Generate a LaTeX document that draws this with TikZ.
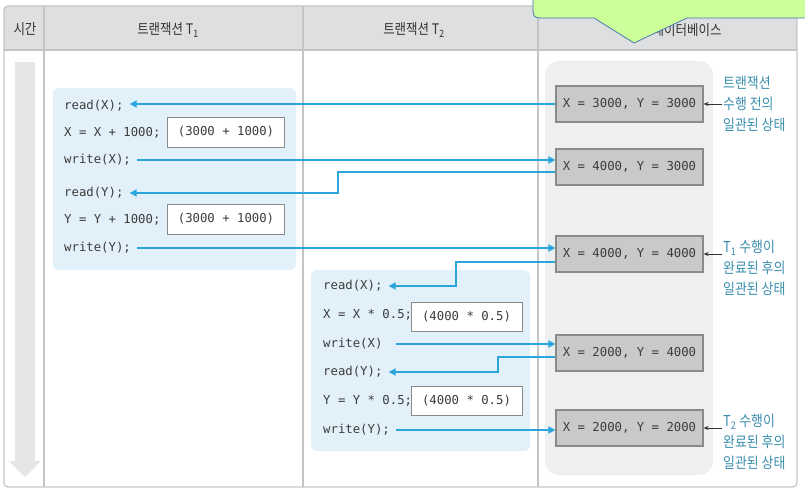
\documentclass[tikz,border=0pt]{standalone}
\usepackage{fontspec}
\setmainfont[FakeStretch=0.86]{Noto Sans CJK KR}
\setmonofont{DejaVu Sans Mono}
\usetikzlibrary{arrows.meta}
\definecolor{flowblue}{HTML}{2AA6DD}
\definecolor{txnfill}{HTML}{E2F1F9}
\definecolor{dbfill}{HTML}{EEEFF1}
\definecolor{statefill}{HTML}{C9C9C9}
\definecolor{stateline}{HTML}{8A8A8A}
\definecolor{notecol}{HTML}{3A8EAD}
\definecolor{gridgray}{HTML}{C4C4C4}
\definecolor{headfill}{HTML}{DEDFE1}
\definecolor{headtext}{HTML}{333333}
\definecolor{codetext}{HTML}{3C3C3C}
\definecolor{calloutfill}{HTML}{CCFF99}
\definecolor{calloutline}{HTML}{4A78AE}
\definecolor{timegray}{HTML}{E6E6E6}
\tikzset{
  code/.style={font=\ttfamily\fontsize{12.3}{14}\selectfont, text=codetext, anchor=west, inner xsep=6pt},
  calcbox/.style={draw=stateline, fill=white, font=\ttfamily\fontsize{12.3}{14}\selectfont, text=codetext},
  dbstate/.style={draw=stateline, line width=1.2pt, fill=statefill, minimum width=147pt, minimum height=36pt,
    font=\ttfamily\fontsize{12.3}{14}\selectfont, text=codetext},
  note/.style={text=notecol, align=left, anchor=west, inner sep=1pt, font=\fontsize{15}{21}\selectfont},
  head/.style={text=headtext, font=\fontsize{14.5}{16}\selectfont},
  flow/.style={-{Triangle[length=7pt,width=7pt]}, flowblue, line width=2pt},
  pointer/.style={-{Stealth[length=5pt,width=4pt]}, line width=0.7pt, black!80}
}
\begin{document}
\begin{tikzpicture}[x=1pt,y=-1pt]
\useasboundingbox (0,0) rectangle (805,495);
% table frame
\begin{scope}
  \clip[rounded corners=4pt] (4,6) rectangle (797,487);
  \fill[headfill] (4,6) rectangle (797,50);
\end{scope}
\draw[gridgray, line width=1.2pt, rounded corners=4pt] (4,6) rectangle (797,487);
\draw[gridgray, line width=2pt] (4,50) -- (797,50);
\foreach \cx in {44,303,538}
  \draw[gridgray, line width=2pt] (\cx,6) -- (\cx,487);
% headers
\node[head] (h0) at (25,29) {시간};
\node[head] (h1) at (168,30) {트랜잭션 T\textsubscript{1}};
\node[head] (h2) at (414,30) {트랜잭션 T\textsubscript{2}};
\node[head, anchor=east] (h3) at (725,30) {데이터베이스};
% time arrow
\fill[timegray] (15,62) rectangle (35,462);
\fill[timegray] (9,461) -- (41,461) -- (25,477) -- cycle;
% blocks
\fill[txnfill, rounded corners=6pt] (53,88) rectangle (296,270);
\fill[txnfill, rounded corners=6pt] (311,270) rectangle (530,451);
\fill[dbfill, rounded corners=14pt] (545,61) rectangle (713,475);
% transaction T1
\node[code] (r1x) at (58,106) {read(X);};
\node[code] (c1x) at (58,133) {X = X + 1000;};
\node[code] (w1x) at (58,160) {write(X);};
\node[code] (r1y) at (58,193) {read(Y);};
\node[code] (c1y) at (58,220) {Y = Y + 1000;};
\node[code] (w1y) at (58,248) {write(Y);};
\node[calcbox, minimum width=117pt, minimum height=30pt] (v1x) at (226,132) {(3000 + 1000)};
\node[calcbox, minimum width=117pt, minimum height=30pt] (v1y) at (226,219) {(3000 + 1000)};
% transaction T2
\node[code] (r2x) at (317,286) {read(X);};
\node[code] (c2x) at (317,315) {X = X * 0.5;};
\node[code] (w2x) at (317,344) {write(X)};
\node[code] (r2y) at (317,372) {read(Y);};
\node[code] (c2y) at (317,401) {Y = Y * 0.5;};
\node[code] (w2y) at (317,430) {write(Y);};
\node[calcbox, minimum width=111pt, minimum height=29pt] (v2x) at (466.5,316.5) {(4000 * 0.5)};
\node[calcbox, minimum width=111pt, minimum height=29pt] (v2y) at (466.5,400.5) {(4000 * 0.5)};
% database states
\node[dbstate] (s0) at (629.5,104) {X = 3000, Y = 3000};
\node[dbstate] (s1) at (629.5,167) {X = 4000, Y = 3000};
\node[dbstate] (s2) at (629.5,254) {X = 4000, Y = 4000};
\node[dbstate] (s3) at (629.5,353) {X = 2000, Y = 4000};
\node[dbstate] (s4) at (629.5,428) {X = 2000, Y = 2000};
% data flow
\draw[flow] (s0.west) -- (s0.west -| r1x.east);
\draw[flow] (w1x.east) -- (w1x.east -| s1.west);
\draw[flow] ([yshift=-5pt]s1.west) -- ++(-217,0) |- (r1y.east);
\draw[flow] (w1y.east) -- (w1y.east -| s2.west);
\draw[flow] ([yshift=-8pt]s2.west) -- ++(-99,0) |- (r2x.east);
\draw[flow] (w2x.east -| w2y.east) -- (w2x.east -| s3.west);
\draw[flow] ([yshift=-4pt]s3.west) -- ++(-57,0) |- (r2y.east);
\draw[flow] (w2y.east) -- (w2y.east -| s4.west);
% notes
\node[note] (n0) at (722,104) {트랜잭션\\수행 전의\\일관된 상태};
\node[note] (n1) at (722,268) {T\textsubscript{1} 수행이\\완료된 후의\\일관된 상태};
\node[note] (n2) at (722,442) {T\textsubscript{2} 수행이\\완료된 후의\\일관된 상태};
\draw[pointer] (n0.west) -- (s0.east);
\draw[pointer] (s2.east -| n1.west) -- (s2.east);
\draw[pointer] (s4.east -| n2.west) -- (s4.east);
% callout
\draw[calloutline, fill=calloutfill, line width=0.8pt]
  (533,-20) -- (533,5) .. controls (533,18) .. (546,18) -- (594,18) -- (634,43)
  -- (687,18) -- (830,18) -- (830,-20) -- cycle;
\end{tikzpicture}
\end{document}
